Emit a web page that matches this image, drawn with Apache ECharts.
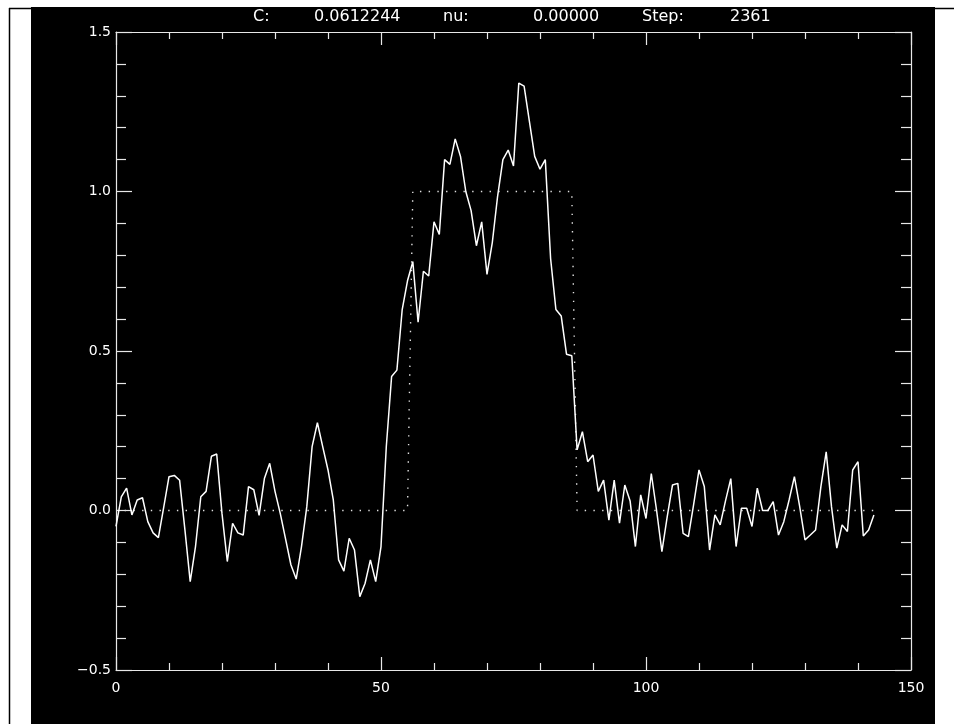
<!DOCTYPE html>
<html>
<head>
<meta charset="utf-8">
<script src="https://cdn.jsdelivr.net/npm/echarts@6/dist/echarts.min.js"></script>
<style>
  html, body { margin: 0; padding: 0; background: #ffffff; }
  #chart { width: 954px; height: 724px; }
</style>
</head>
<body>
<div id="chart"></div>
<script>
// ---- data ----
const signal = [
  -0.05, 0.043, 0.07, -0.014, 0.033, 0.04, -0.035, -0.07, -0.085, 0.01,
  0.106, 0.11, 0.095, -0.06, -0.223, -0.113, 0.043, 0.06, 0.17, 0.177,
  -0.01, -0.16, -0.04, -0.07, -0.077, 0.075, 0.065, -0.015, 0.10, 0.148,
  0.06, -0.01, -0.09, -0.17, -0.215, -0.113, 0.012, 0.2, 0.275, 0.2,
  0.127, 0.033, -0.155, -0.19, -0.087, -0.124, -0.27, -0.228, -0.155, -0.223,
  -0.113, 0.2, 0.42, 0.44, 0.63, 0.72, 0.78, 0.59, 0.75, 0.735,
  0.905, 0.865, 1.10, 1.085, 1.165, 1.11, 1.0, 0.94, 0.83, 0.905,
  0.74, 0.84, 0.985, 1.10, 1.13, 1.08, 1.34, 1.33, 1.22, 1.11,
  1.07, 1.10, 0.79, 0.63, 0.61, 0.49, 0.485, 0.19, 0.247, 0.153,
  0.174, 0.06, 0.095, -0.03, 0.095, -0.04, 0.08, 0.03, -0.113, 0.049,
  -0.025, 0.116, 0.0, -0.129, -0.02, 0.08, 0.085, -0.072, -0.082, 0.02,
  0.127, 0.075, -0.124, -0.014, -0.045, 0.03, 0.1, -0.113, 0.007, 0.007,
  -0.05, 0.07, 0.0, 0.0, 0.028, -0.077, -0.035, 0.033, 0.106, 0.012,
  -0.092, -0.077, -0.061, 0.075, 0.184, 0.012, -0.118, -0.045, -0.066, 0.127,
  0.153, -0.08, -0.061, -0.014
];
const stepX = [0, 55, 56, 86, 87, 143];
const stepY = [0, 0, 1, 1, 0, 0];
const xTicks = [0, 50, 100, 150];
const yTicks = [-0.5, 0.0, 0.5, 1.0, 1.5];
const headerLabels = ['C:', '0.0612244', 'nu:', '0.00000', 'Step:', '2361'];

// ---- chart ----
const chart = echarts.init(document.getElementById('chart'), null, { renderer: 'canvas' });
const FONT = 'DejaVu Sans';
const axisCol = '#e8e8e8';
const headerX = [253, 314, 443, 533, 642, 730];

function xAxisCfg(pos, showLabel) {
  return {
    type: 'value', position: pos,
    min: xTicks[0], max: xTicks[xTicks.length - 1], interval: 50,
    axisLine: { show: true, onZero: false, lineStyle: { color: axisCol, width: 1.2 } },
    axisTick: { show: true, inside: true, length: 13, lineStyle: { color: axisCol, width: 1.2 } },
    minorTick: { show: true, splitNumber: 5, length: 7, lineStyle: { color: axisCol, width: 1.2 } },
    splitLine: { show: false },
    axisLabel: { show: showLabel, color: '#ffffff', fontFamily: FONT, fontSize: 14, margin: 11 }
  };
}
function yAxisCfg(pos, showLabel) {
  return {
    type: 'value', position: pos,
    min: yTicks[0], max: yTicks[yTicks.length - 1], interval: 0.5,
    axisLine: { show: true, onZero: false, lineStyle: { color: axisCol, width: 1.2 } },
    axisTick: { show: true, inside: true, length: 16, lineStyle: { color: axisCol, width: 1.2 } },
    minorTick: { show: true, splitNumber: 5, length: 10, lineStyle: { color: axisCol, width: 1.2 } },
    splitLine: { show: false },
    axisLabel: {
      show: showLabel, color: '#ffffff', fontFamily: FONT, fontSize: 14, margin: 5,
      formatter: v => (v < 0 ? '\u2212' : '') + Math.abs(v).toFixed(1)
    }
  };
}

const graphics = [
  { type: 'rect', z: -10, silent: true, shape: { x: 31, y: 7, width: 904, height: 717 }, style: { fill: '#000000' } },
  { type: 'line', z: -9, silent: true, shape: { x1: 9, y1: 8.5, x2: 954, y2: 8.5 }, style: { stroke: '#000000', lineWidth: 1.5 } },
  { type: 'line', z: -9, silent: true, shape: { x1: 9.5, y1: 8, x2: 9.5, y2: 724 }, style: { stroke: '#000000', lineWidth: 1.5 } }
];
headerLabels.forEach((t, k) => {
  graphics.push({
    type: 'text', z: 10, silent: true,
    style: { text: t, x: headerX[k], y: 17, fill: '#ffffff', font: '16px "DejaVu Sans"', verticalAlign: 'middle', align: 'left' }
  });
});

chart.setOption({
  backgroundColor: 'transparent',
  animation: false,
  graphic: graphics,
  grid: { left: 116, top: 32, width: 795, height: 638, containLabel: false },
  xAxis: [xAxisCfg('bottom', true), xAxisCfg('top', false)],
  yAxis: [yAxisCfg('left', true), yAxisCfg('right', false)],
  series: [
    {
      type: 'line', xAxisIndex: 0, yAxisIndex: 0,
      data: stepX.map((x, k) => [x, stepY[k]]),
      showSymbol: false, symbol: 'none',
      lineStyle: { color: '#e0e0e0', width: 1.4, type: [1.4, 7.3] },
      z: 2
    },
    {
      type: 'line', xAxisIndex: 0, yAxisIndex: 0,
      data: signal.map((v, i) => [i, v]),
      showSymbol: false, symbol: 'none',
      lineStyle: { color: '#ffffff', width: 1.5 },
      z: 3
    }
  ]
});
</script>
</body>
</html>
